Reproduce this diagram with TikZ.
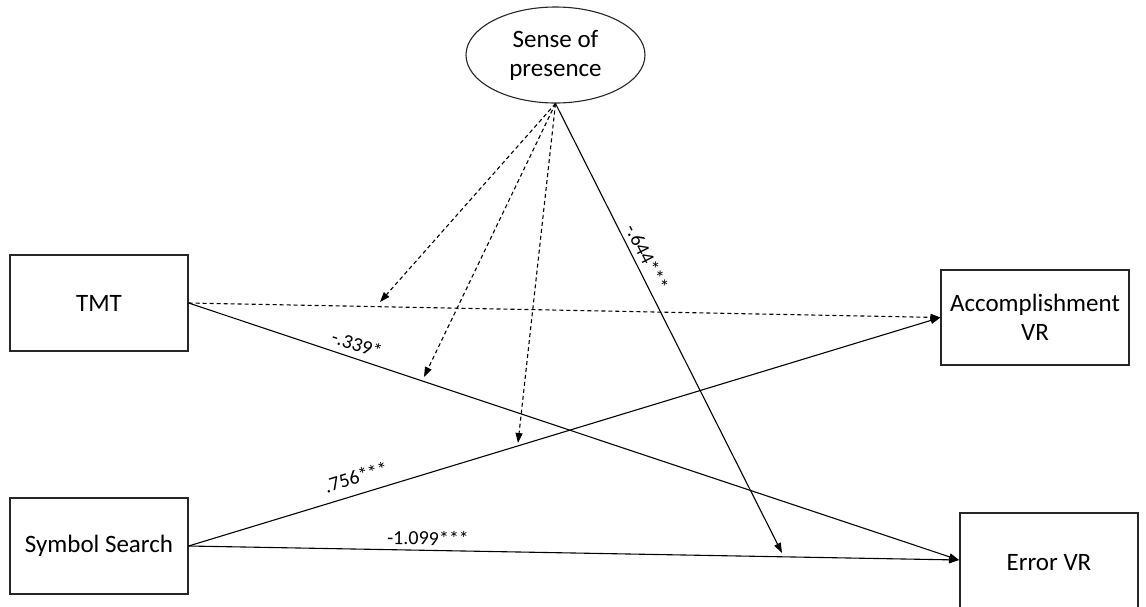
\documentclass[tikz,border=0pt]{standalone}
\usepackage{fontspec}
\setmainfont{Carlito}
\usetikzlibrary{arrows.meta,shapes.geometric,calc}
\begin{document}
\begin{tikzpicture}[x=1pt,y=-1pt,
  box/.style={draw=black!85, line width=1.1pt, minimum width=178pt, minimum height=96pt,
    inner sep=0pt, font=\fontsize{25}{29}\selectfont, align=center},
  conn/.style={line width=1.1pt, -{Triangle[length=10pt,width=7pt]}},
  dconn/.style={conn, dash pattern=on 4pt off 3pt},
  lab/.style={font=\fontsize{20}{22}\selectfont, inner sep=1pt}]
\useasboundingbox (0,0) rectangle (1146,606);
\fill[white] (0,0) rectangle (1146,606);
% nodes
\node[box, ellipse, minimum width=179pt, minimum height=96pt] (sp) at (555.5,55) {Sense of\\presence};
\node[box] (tmt) at (99,303) {TMT};
\node[box] (ss) at (99,546) {Symbol Search};
\node[box, minimum width=188pt, minimum height=95pt] (acc) at (1035,317.5) {Accomplishment\\VR};
\node[box, minimum height=100pt] (err) at (1049,563) {Error VR};
% free ends
\coordinate (errin) at (959,560);
\coordinate (d1) at (380,302);
\coordinate (d2) at (424,377);
\coordinate (d3) at (518,443);
\coordinate (t644) at (782,553);
% connectors
\draw[dconn] (tmt.east) -- (acc.west);
\draw[conn] (tmt.east) -- (errin);
\draw[conn] (ss.east) -- (acc.west);
\draw[conn] (ss.east) -- (errin);
\draw[conn] (sp.south) -- (t644);
\draw[dconn] (sp.south) -- (d1);
\draw[dconn] (sp.south) -- (d2);
\draw[dconn] (sp.south) -- (d3);
% labels
\node[lab, rotate=-18.4] (l339) at (357,344) {-.339*};
\node[lab, rotate=-63.2] (l644) at (647,257) {-.644***};
\node[lab, rotate=16.9] (l756) at (356,477) {.756***};
\node[lab, rotate=-1] (l1099) at (428,538) {-1.099***};
\end{tikzpicture}
\end{document}
